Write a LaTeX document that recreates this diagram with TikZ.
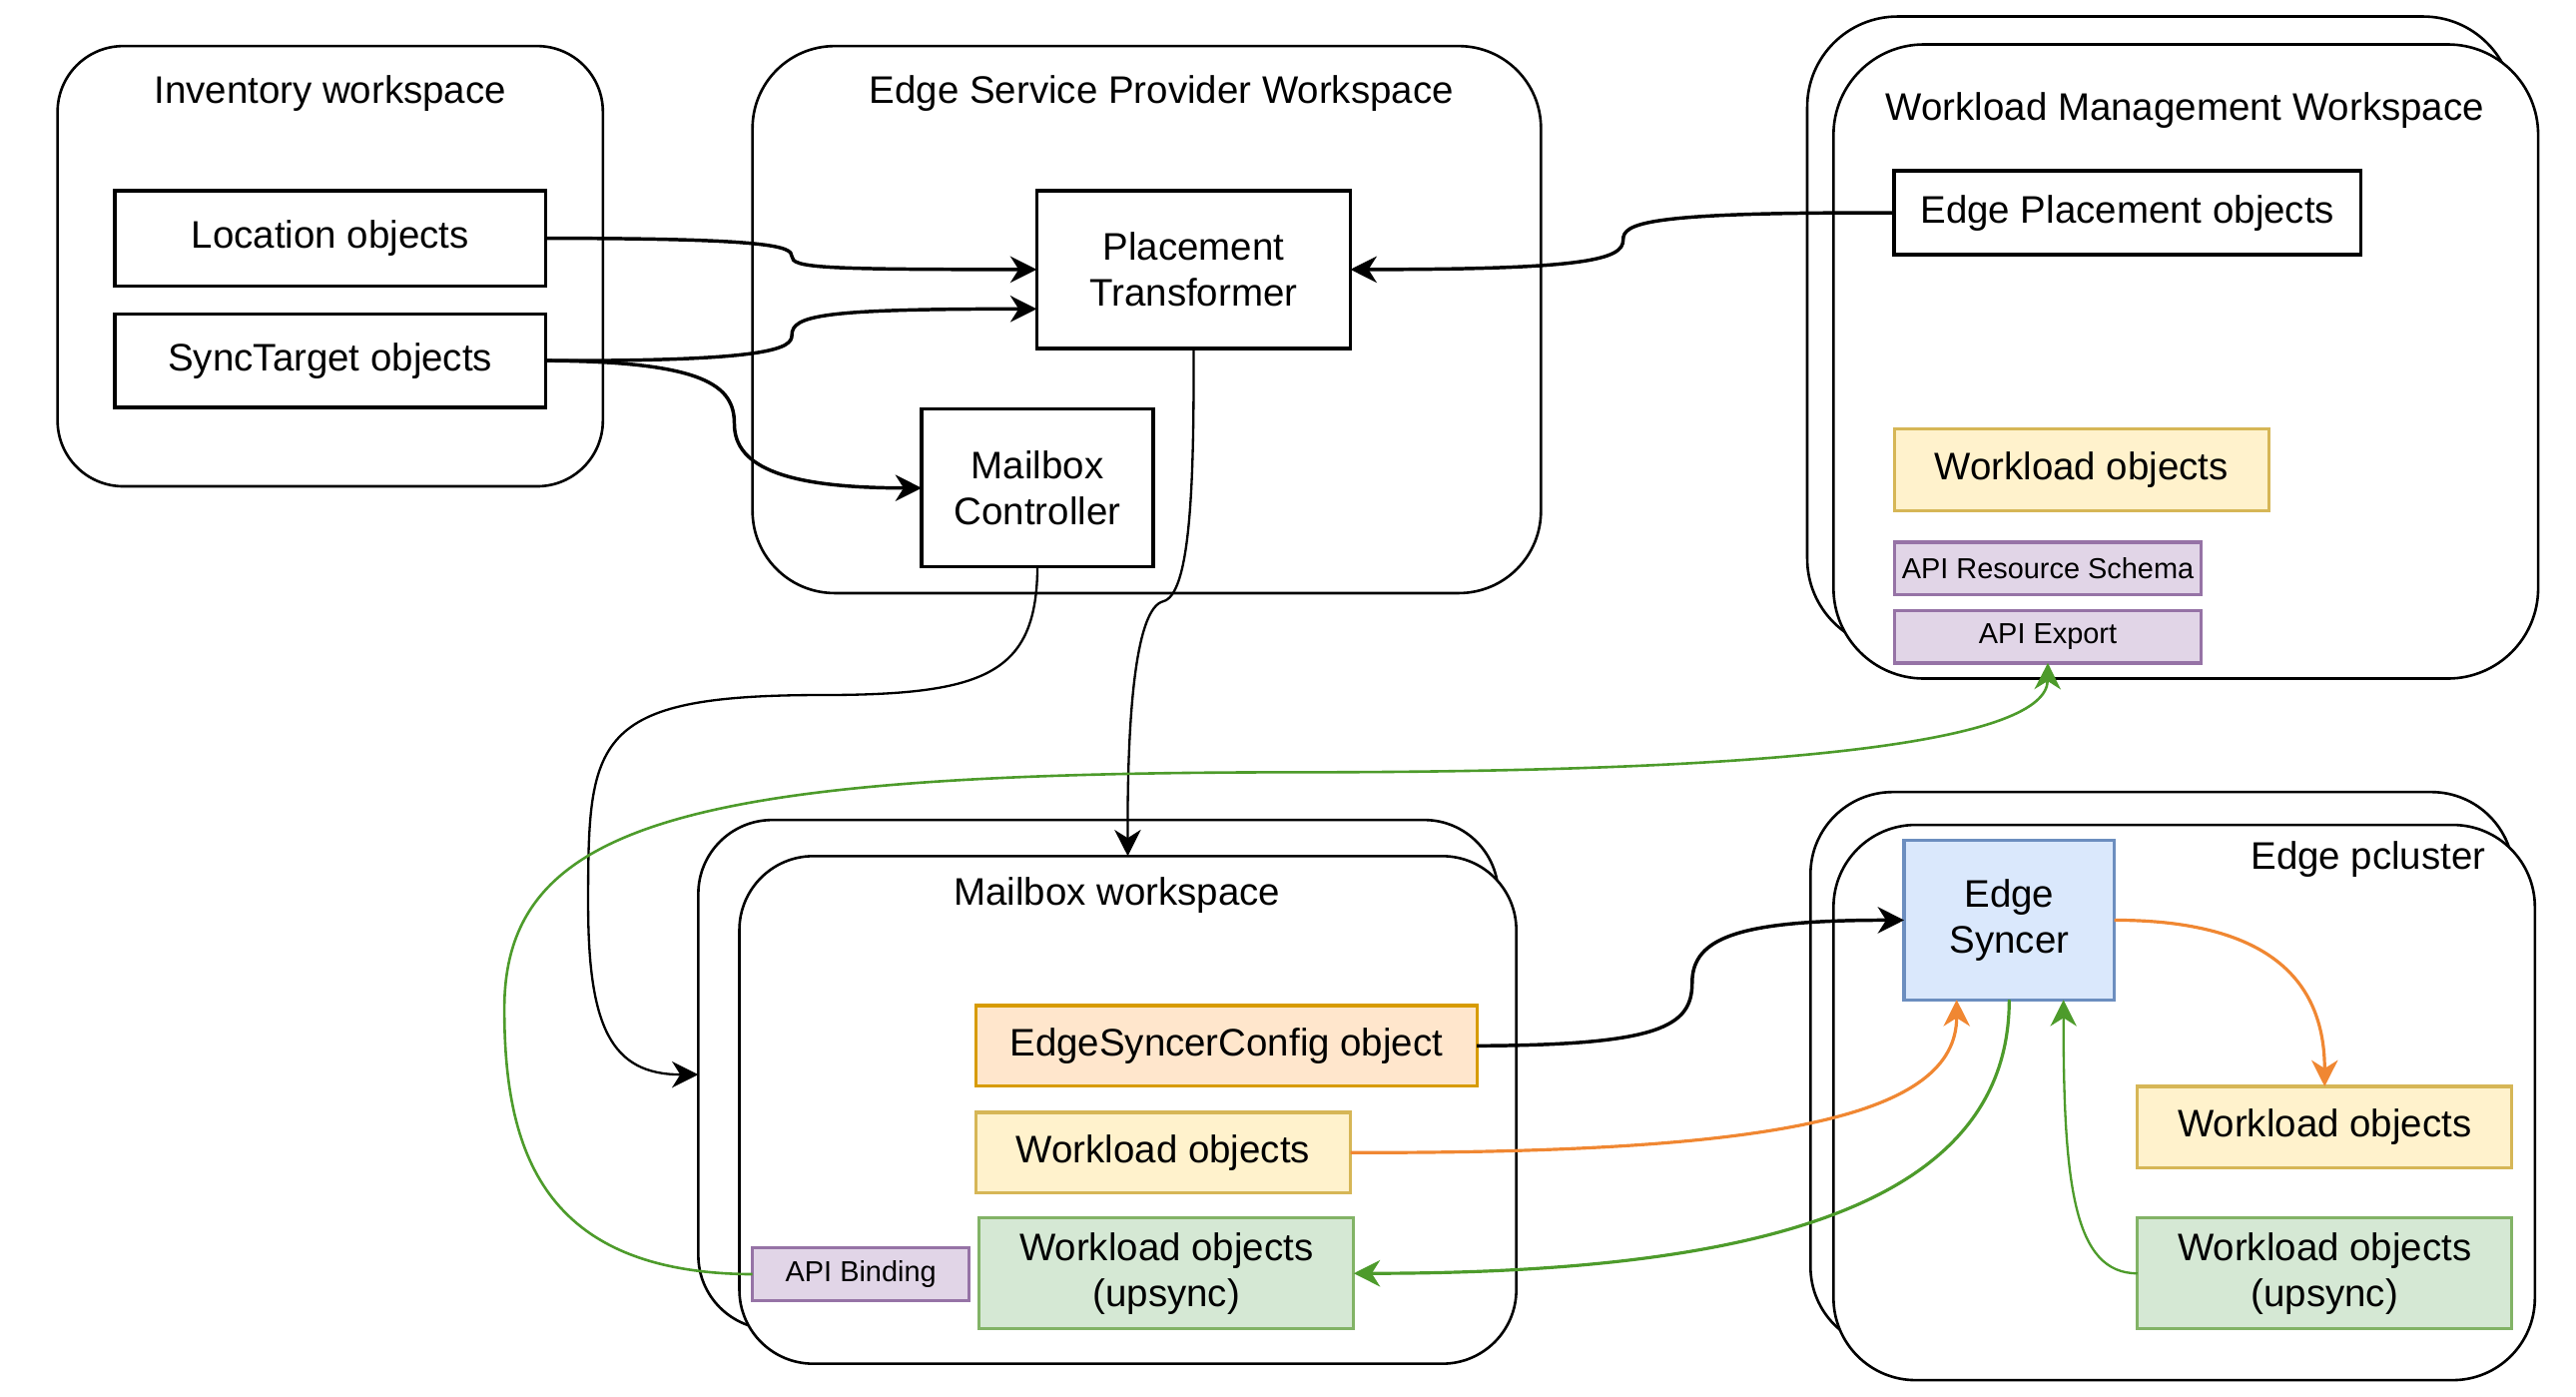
\documentclass[tikz,border=0pt]{standalone}
\usepackage{fontspec}
\setmainfont{Liberation Sans}
\usetikzlibrary{arrows.meta,calc}

\definecolor{orgfill}{HTML}{FFE6CC}
\definecolor{orgline}{HTML}{D79B00}
\definecolor{yelfill}{HTML}{FFF2CC}
\definecolor{yelline}{HTML}{D6B656}
\definecolor{grnfill}{HTML}{D5E8D4}
\definecolor{grnline}{HTML}{82B366}
\definecolor{purfill}{HTML}{E1D5E7}
\definecolor{purline}{HTML}{9673A6}
\definecolor{blufill}{HTML}{DAE8FC}
\definecolor{bluline}{HTML}{6C8EBF}
\definecolor{edgeorange}{RGB}{240,135,50}
\definecolor{edgegreen}{RGB}{77,155,43}

\begin{document}
\begin{tikzpicture}[x={(0.02cm,0cm)},y={(0cm,-0.02cm)},
  every node/.style={font=\fontsize{13.3pt}{15.9pt}\selectfont,inner sep=0pt,outer sep=0pt,align=center},
  ws/.style={draw,line width=0.9pt,fill=white},
  obj/.style={draw,line width=1.2pt},
  apibox/.style={draw=purline,fill=purfill,line width=1.1pt,minimum width=3.74cm,minimum height=0.64cm,font=\fontsize{10pt}{12pt}\selectfont},
  tip/.style={-{Stealth[length=0.32cm,width=0.32cm,inset=0.1cm]}},
  thick conn/.style={tip,line width=1.2pt},
  thin conn/.style={tip,line width=0.8pt}]
\useasboundingbox (0,0) rectangle (1568,850);

\node[ws,rounded corners=0.8cm,minimum width=6.64cm,minimum height=5.36cm] (inventory) at (201,162) {};
\node (inventorytitle) at (201,57) {Inventory workspace};
\node[ws,rounded corners=1cm,minimum width=9.6cm,minimum height=6.66cm] (provider) at (698,194.5) {};
\node (providertitle) at (707,57) {Edge Service Provider Workspace};
\node[ws,rounded corners=1.1cm,minimum width=8.6cm,minimum height=7.7cm] (wmgmtback) at (1315,202.5) {};
\node[ws,rounded corners=1.1cm,minimum width=8.58cm,minimum height=7.72cm] (wmgmt) at (1330.5,220) {};
\node (wmgmttitle) at (1330,67) {Workload Management Workspace};
\node[ws,rounded corners=0.9cm,minimum width=9.74cm,minimum height=6.2cm] (mailboxback) at (668.5,654) {};
\node[ws,rounded corners=0.9cm,minimum width=9.46cm,minimum height=6.18cm] (mailbox) at (686.5,675.5) {};
\node (mailboxtitle) at (680,545) {Mailbox workspace};
\node[ws,rounded corners=1cm,minimum width=8.56cm,minimum height=6.78cm] (pclusterback) at (1316,651.5) {};
\node[ws,rounded corners=1cm,minimum width=8.54cm,minimum height=6.76cm] (pcluster) at (1329.5,671) {};
\node[anchor=east] (pclustertitle) at (1513,523) {Edge pcluster};

\node[obj,minimum width=5.24cm,minimum height=1.16cm] (location) at (201,145) {Location objects};
\node[obj,minimum width=5.24cm,minimum height=1.14cm] (synctarget) at (201,219.5) {SyncTarget objects};
\node[obj,minimum width=3.82cm,minimum height=1.92cm] (placement) at (726.5,164) {Placement\\Transformer};
\node[obj,minimum width=2.82cm,minimum height=1.92cm] (mailboxctl) at (631.5,297) {Mailbox\\Controller};
\node[obj,minimum width=5.68cm,minimum height=1.02cm] (edgeplacement) at (1295,129.5) {Edge Placement objects};
\node[draw=yelline,fill=yelfill,line width=1.1pt,minimum width=4.56cm,minimum height=1cm] (wmgmtwork) at (1267,286) {Workload objects};
\node[apibox] (apischema) at (1246.5,346) {API Resource Schema};
\node[apibox] (apiexport) at (1246.5,387.5) {API Export};

\node[draw=orgline,fill=orgfill,line width=1.1pt,minimum width=6.1cm,minimum height=0.98cm] (syncercfg) at (746.5,636.5) {EdgeSyncerConfig object};
\node[draw=yelline,fill=yelfill,line width=1.1pt,minimum width=4.56cm,minimum height=0.98cm] (mailboxwork) at (708,701.5) {Workload objects};
\node[draw=grnline,fill=grnfill,line width=1.1pt,minimum width=4.56cm,minimum height=1.35cm] (mailboxup) at (710,775) {Workload objects\\(upsync)};
\node[apibox,minimum width=2.64cm] (apibinding) at (524,775.5) {API Binding};

\node[draw=bluline,fill=blufill,line width=1.1pt,minimum width=2.56cm,minimum height=1.94cm] (syncer) at (1223,560) {Edge\\Syncer};
\node[draw=yelline,fill=yelfill,line width=1.1pt,minimum width=4.56cm,minimum height=0.99cm] (pclusterwork) at (1415,686) {Workload objects};
\node[draw=grnline,fill=grnfill,line width=1.1pt,minimum width=4.56cm,minimum height=1.35cm] (pclusterup) at (1415,775) {Workload objects\\(upsync)};

\draw[thick conn] (location.east) .. controls (470,145) and (482,150) .. (482,156) .. controls (482,163) and (500,164) .. (placement.west);
\draw[thick conn] (synctarget.east) .. controls (470,220) and (482,212) .. (482,204) .. controls (482,192) and (500,188) .. ($(placement.west)+(0,24)$);
\draw[thick conn] (synctarget.east) .. controls (430,220) and (447,235) .. (447,258) .. controls (447,285) and (480,297) .. (mailboxctl.west);
\draw[thick conn] (edgeplacement.west) .. controls (1000,129) and (988,136) .. (988,146) .. controls (988,158) and (965,164) .. (placement.east);
\draw[thin conn] (placement.south) .. controls (727,300) and (724,362) .. (708,366) .. controls (692,370) and (686,430) .. (mailbox.north);
\draw[thin conn] (mailboxctl.south) .. controls (631,410) and (600,423) .. (500,423) .. controls (360,423) and (358,450) .. (358,550) .. controls (358,625) and (372,654) .. (mailboxback.west);
\draw[thick conn] (syncercfg.east) .. controls (1010,636) and (1030,625) .. (1030,598) .. controls (1030,570) and (1060,560) .. (syncer.west);
\draw[thick conn,edgeorange,line width=1.1pt] (mailboxwork.east) .. controls (1080,702) and (1191,680) .. ($(syncer.south west)+(32,0)$);
\draw[thick conn,edgegreen,line width=1.1pt] (syncer.south) .. controls (1223,730) and (1080,775) .. (mailboxup.east);
\draw[thin conn,edgegreen] (pclusterup.west) .. controls (1262,775) and (1256,720) .. ($(syncer.south west)+(97,0)$);
\draw[thick conn,edgeorange,line width=1.1pt] (syncer.east) .. controls (1385,560) and (1415,600) .. (pclusterwork.north);
\draw[thin conn,edgegreen,line width=0.9pt] (apibinding.west) .. controls (330,775) and (307,700) .. (307,614) .. controls (307,500) and (420,470) .. (790,470) .. controls (1100,470) and (1246,450) .. (apiexport.south);
\end{tikzpicture}
\end{document}
